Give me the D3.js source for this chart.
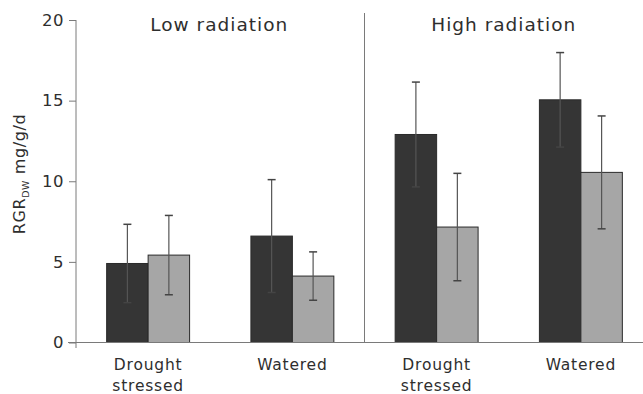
<!DOCTYPE html>
<html><head><meta charset="utf-8">
<script src="https://cdn.jsdelivr.net/npm/d3@7"></script>
<style>body{margin:0;background:#fff}svg{display:block}</style>
</head><body>
<svg id="c" width="643" height="394"></svg>
<script>
const categories = ["Drought stressed|LR", "Watered|LR", "Drought stressed|HR", "Watered|HR"];
const categoryLabels = [["Drought","stressed"],["Watered"],["Drought","stressed"],["Watered"]];
const series1 = [4.9, 6.6, 12.9, 15.05];
const series1Err = [2.43, 3.5, 3.25, 2.93];
const series2 = [5.42, 4.12, 7.16, 10.55];
const series2Err = [2.46, 1.5, 3.33, 3.5];
const yTicks = [0, 5, 10, 15, 20];
const panels = ["Low radiation", "High radiation"];

const svg = d3.select("#c");
const font = "Verdana, 'DejaVu Sans', sans-serif";
const x = d3.scaleBand().domain(categories).range([76, 653]).paddingInner(0.425).paddingOuter(0.2125);
const y = d3.scaleLinear().domain([0, 20]).range([342.5, 20]);
const sub = d3.scaleBand().domain([0,1]).range([0, x.bandwidth()]);

const axisColor = "#7a7a7a";
const textColor = "#2e2e2e";

// y axis
const ya = svg.append("g").attr("transform","translate(76,0)")
  .call(d3.axisLeft(y).tickValues(yTicks).tickSize(7).tickPadding(5).tickSizeOuter(0));
ya.select(".domain").remove();
ya.selectAll(".tick line").attr("stroke", axisColor);
ya.selectAll(".tick text").attr("font-family", font).attr("font-size", 16.5).attr("letter-spacing", 0.5).attr("fill",textColor);
svg.append("line").attr("x1",76).attr("x2",76).attr("y1",y(20)).attr("y2",348).attr("stroke",axisColor);

// divider
const divX = (x(categories[1])+x.bandwidth()+x(categories[2]))/2;
svg.append("line").attr("x1", divX).attr("x2", divX)
  .attr("y1", 13).attr("y2", y(0)).attr("stroke", axisColor);

const data = categories.map((c,i)=>({c, vals:[{v:series1[i], e:series1Err[i], k:0},{v:series2[i], e:series2Err[i], k:1}]}));
const fills = ["#353535", "#a6a6a6"];

const g = svg.selectAll("g.grp").data(data).join("g").attr("class","grp")
  .attr("transform", d=>`translate(${x(d.c)},0)`);
g.selectAll("rect").data(d=>d.vals).join("rect")
  .attr("x", d=>sub(d.k)).attr("width", sub.bandwidth())
  .attr("y", d=>y(d.v)).attr("height", d=>y(0)-y(d.v))
  .attr("fill", d=>fills[d.k]).attr("stroke", "#2a2a2a").attr("stroke-width", 1);
const eb = g.selectAll("g.eb").data(d=>d.vals).join("g").attr("class","eb");
eb.append("line").attr("x1", d=>sub(d.k)+sub.bandwidth()/2).attr("x2", d=>sub(d.k)+sub.bandwidth()/2)
  .attr("y1", d=>y(d.v+d.e)).attr("y2", d=>y(d.v-d.e)).attr("stroke","#555").attr("stroke-width",1.2);
[1,-1].forEach(s=>{
  eb.append("line").attr("x1", d=>sub(d.k)+sub.bandwidth()/2-4).attr("x2", d=>sub(d.k)+sub.bandwidth()/2+4)
    .attr("y1", d=>y(d.v+s*d.e)).attr("y2", d=>y(d.v+s*d.e)).attr("stroke","#444").attr("stroke-width",1.5);
});

// x axis line
svg.append("line").attr("x1",68).attr("x2",643).attr("y1",y(0)).attr("y2",y(0)).attr("stroke",axisColor);

// category labels
categories.forEach((c,i)=>{
  const cx = x(c)+x.bandwidth()/2;
  const t = svg.append("text").attr("x", cx).attr("y", 370)
    .attr("text-anchor","middle").attr("font-family",font).attr("font-size",15.5).attr("letter-spacing",0.8).attr("fill",textColor);
  categoryLabels[i].forEach((l,j)=>t.append("tspan").attr("x", cx).attr("dy", j?21:0).text(l));
});

// panel titles
panels.forEach((p,i)=>{
  const cx = (x(categories[i*2]) + x(categories[i*2+1]) + x.bandwidth())/2;
  svg.append("text").attr("x", cx + (i?-5:-1)).attr("y", 31).attr("text-anchor","middle")
    .attr("font-family",font).attr("font-size",18.5).attr("letter-spacing",1).attr("fill",textColor).text(p);
});

// y label
const yl = svg.append("text").attr("transform","translate(25,174) rotate(-90)").attr("text-anchor","middle")
  .attr("font-family",font).attr("font-size",16).attr("letter-spacing",0.6).attr("fill",textColor);
yl.append("tspan").text("RGR");
yl.append("tspan").attr("font-size",9.5).attr("dy",4).text("DW");
yl.append("tspan").attr("dy",-4).text(" mg/g/d");
</script>
</body></html>
